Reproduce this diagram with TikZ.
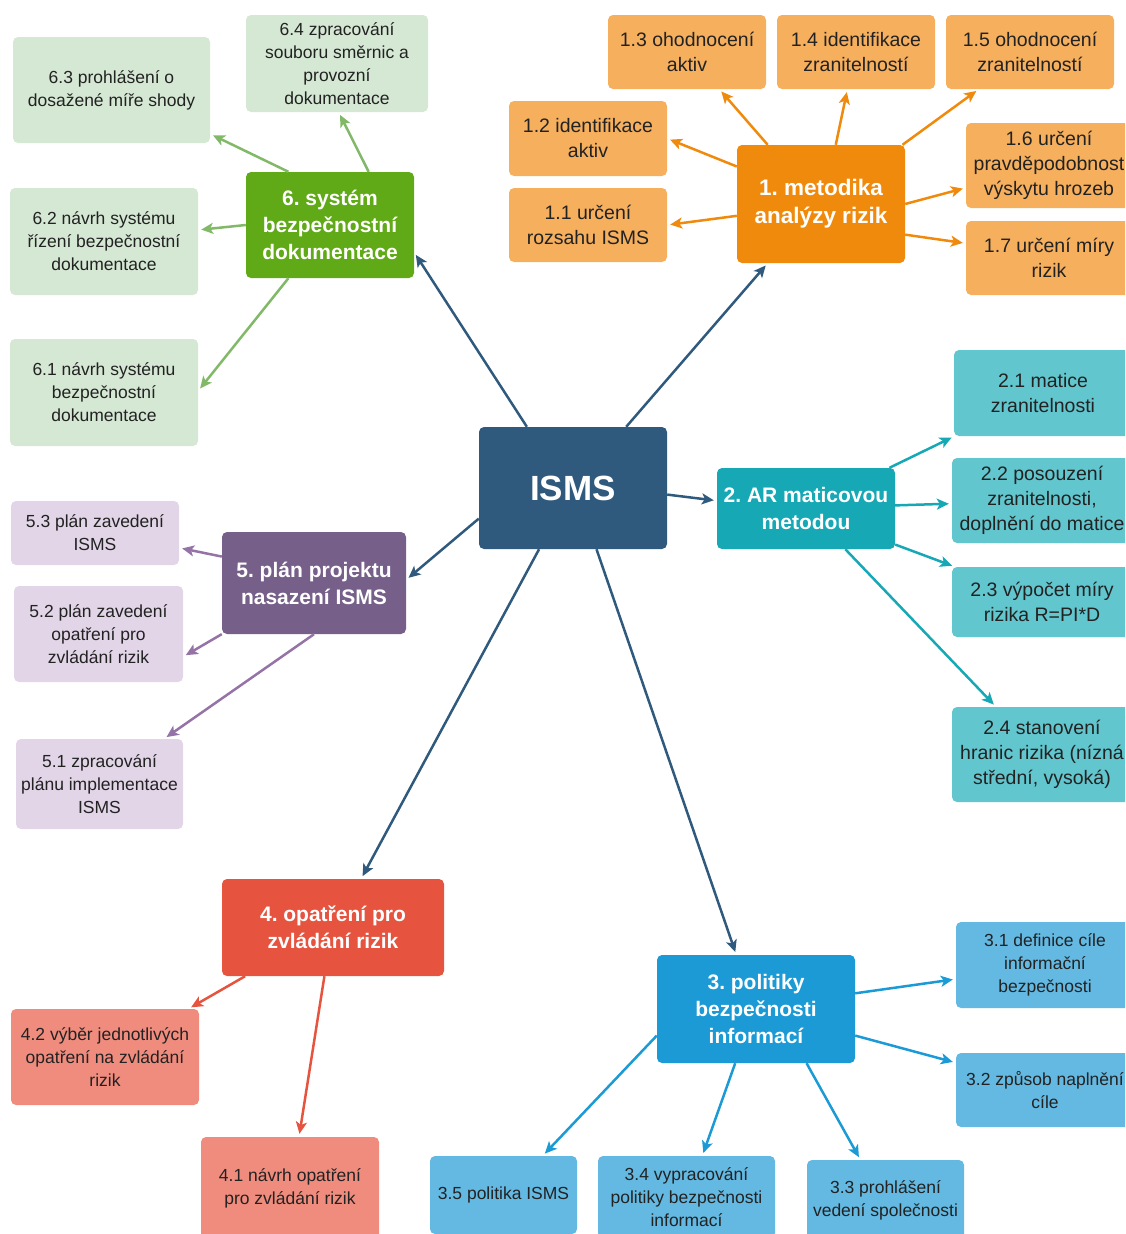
\documentclass[tikz,border=0pt]{standalone}
\usepackage{fontspec}
\setmainfont{Liberation Sans}
\frenchspacing
\usepackage{color}
\definecolor{mydarkblue}{RGB}{47,90,125}
\definecolor{myorange}{RGB}{240,138,12}
\definecolor{mylightorange}{RGB}{245,175,93}
\definecolor{myteal}{RGB}{22,168,181}
\definecolor{mylightteal}{RGB}{98,198,206}
\definecolor{mygreen}{RGB}{96,169,23}
\definecolor{mylightgreen}{RGB}{213,232,212}
\definecolor{mygreenline}{RGB}{130,185,105}
\definecolor{mypurple}{RGB}{118,96,138}
\definecolor{mylightpurple}{RGB}{225,213,231}
\definecolor{mypurpleline}{RGB}{150,115,166}
\definecolor{myred}{RGB}{230,84,64}
\definecolor{mylightred}{RGB}{240,140,126}
\definecolor{myblue}{RGB}{27,154,214}
\definecolor{mylightblue}{RGB}{99,185,226}
\definecolor{mytext}{RGB}{34,34,34}
\usepackage{tikz}
\usetikzlibrary{arrows.meta,positioning}
\tikzstyle{hub}=[rounded corners=5pt,inner sep=0pt,align=center,text=white,font=\bfseries\fontsize{21}{27}\selectfont]
\tikzstyle{leaf}=[rounded corners=5pt,inner sep=0pt,align=center,text=mytext,font=\fontsize{17.5}{23}\selectfont]
\tikzstyle{bigleaf}=[leaf,font=\fontsize{19.5}{25}\selectfont]
\tikzstyle{link}=[line width=2.5pt,-{Stealth[length=12pt,width=11pt,inset=3pt]},shorten >=3pt]
\tikzset{boxsize/.style 2 args={minimum width=#1,minimum height=#2}}

\begin{document}
\begin{tikzpicture}[x=1pt,y=-1pt]
\useasboundingbox (0,0) rectangle (1125,1234);
\clip (0,0) rectangle (1125,1234);

\node[hub,fill=mydarkblue,boxsize={188}{122},font=\bfseries\fontsize{35}{40}\selectfont] (isms) at (573,488) {ISMS};

\node[hub,fill=myorange,boxsize={168}{118},font=\bfseries\fontsize{22.5}{28}\selectfont] (met) at (821,204) {1. metodika\\analýzy rizik};
\node[bigleaf,fill=mylightorange,boxsize={158}{74}] (met11) at (588,225) {1.1 určení\\rozsahu ISMS};
\node[bigleaf,fill=mylightorange,boxsize={158}{75}] (met12) at (588,138.5) {1.2 identifikace\\aktiv};
\node[bigleaf,fill=mylightorange,boxsize={158}{74}] (met13) at (687,52) {1.3 ohodnocení\\aktiv};
\node[bigleaf,fill=mylightorange,boxsize={158}{74}] (met14) at (856,52) {1.4 identifikace\\zranitelností};
\node[bigleaf,fill=mylightorange,boxsize={168}{74}] (met15) at (1030,52) {1.5 ohodnocení\\zranitelností};
\node[bigleaf,fill=mylightorange,boxsize={166}{85}] (met16) at (1049,165.5) {1.6 určení\\pravděpodobnost\\výskytu hrozeb};
\node[bigleaf,fill=mylightorange,boxsize={166}{74}] (met17) at (1049,258) {1.7 určení míry\\rizik};

\node[hub,fill=myteal,boxsize={178}{81}] (arm) at (806,508.5) {2. AR maticovou\\metodou};
\node[bigleaf,fill=mylightteal,boxsize={178}{86}] (arm21) at (1043,393) {2.1 matice\\zranitelnosti};
\node[bigleaf,fill=mylightteal,boxsize={180}{85}] (arm22) at (1042,500.5) {2.2 posouzení\\zranitelnosti,\\doplnění do matice};
\node[bigleaf,fill=mylightteal,boxsize={180}{70}] (arm23) at (1042,602) {2.3 výpočet míry\\rizika R=PI*D};
\node[bigleaf,fill=mylightteal,boxsize={180}{95}] (arm24) at (1042,754.5) {2.4 stanovení\\hranic rizika (nízná\\střední, vysoká)};

\node[hub,fill=myblue,boxsize={198}{108}] (pol) at (756,1009) {3. politiky\\bezpečnosti\\informací};
\node[leaf,fill=mylightblue,boxsize={178}{86}] (pol31) at (1045,965) {3.1 definice cíle\\informační\\bezpečnosti};
\node[leaf,fill=mylightblue,boxsize={178}{74}] (pol32) at (1045,1090) {3.2 způsob naplnění\\cíle};
\node[leaf,fill=mylightblue,boxsize={157}{80}] (pol33) at (885.5,1200) {3.3 prohlášení\\vedení společnosti};
\node[leaf,fill=mylightblue,boxsize={177}{82}] (pol34) at (686.5,1197) {3.4 vypracování\\politiky bezpečnosti\\informací};
\node[leaf,fill=mylightblue,boxsize={147}{78}] (pol35) at (503.5,1195) {3.5 politika ISMS};

\node[hub,fill=myred,boxsize={222}{97}] (opt) at (333,927.5) {4. opatření pro\\zvládání rizik};
\node[leaf,fill=mylightred,boxsize={178}{102}] (opt41) at (290,1188) {4.1 návrh opatření\\pro zvládání rizik};
\node[leaf,fill=mylightred,boxsize={188}{96}] (opt42) at (105,1057) {4.2 výběr jednotlivých\\opatření na zvládání\\rizik};

\node[hub,fill=mypurple,boxsize={184}{102}] (pln) at (314,583) {5. plán projektu\\nasazení ISMS};
\node[leaf,fill=mylightpurple,boxsize={167}{90}] (pln51) at (99.5,784) {5.1 zpracování\\plánu implementace\\ISMS};
\node[leaf,fill=mylightpurple,boxsize={169}{96}] (pln52) at (98.5,634) {5.2 plán zavedení\\opatření pro\\zvládání rizik};
\node[leaf,fill=mylightpurple,boxsize={168}{64}] (pln53) at (95,533) {5.3 plán zavedení\\ISMS};

\node[hub,fill=mygreen,boxsize={168}{106}] (sys) at (330,225) {6. systém\\bezpečnostní\\dokumentace};
\node[leaf,fill=mylightgreen,boxsize={188}{107}] (sys61) at (104,392.5) {6.1 návrh systému\\bezpečnostní\\dokumentace};
\node[leaf,fill=mylightgreen,boxsize={188}{107}] (sys62) at (104,241.5) {6.2 návrh systému\\řízení bezpečnostní\\dokumentace};
\node[leaf,fill=mylightgreen,boxsize={197}{106}] (sys63) at (111.5,90) {6.3 prohlášení o\\dosažené míře shody};
\node[leaf,fill=mylightgreen,boxsize={182}{97}] (sys64) at (337,63.5) {6.4 zpracování\\souboru směrnic a\\provozní\\dokumentace};

\draw[link,mydarkblue] (isms.49) -- (met.-132);
\draw[link,mydarkblue] (isms.127) -- (sys.-18);
\draw[link,mydarkblue] (isms.-4) -- (arm.175);
\draw[link,mydarkblue] (isms.-162) -- (pln.2);
\draw[link,mydarkblue] (isms.-119) -- (opt.60);
\draw[link,mydarkblue] (isms.-69) -- (pol.110);

\draw[link,myorange] (met.132) -- (met13.-49);
\draw[link,myorange] (met.76) -- (met14.-103);
\draw[link,myorange] (met.36) -- (met15.-144);
\draw[link,myorange] (met.156) -- (met12.east);
\draw[link,myorange] (met.188) -- (met11.east);
\draw[link,myorange] (met.east) -- (met16.195);
\draw[link,myorange] (met.-20) -- (met17.170);

\draw[link,myteal] (arm.26) -- (arm21.206);
\draw[link,myteal] (arm.2) -- (arm22.182);
\draw[link,myteal] (arm.-22) -- (arm23.158);
\draw[link,myteal] (arm.-46) -- (arm24.134);

\draw[link,myblue] (pol.9) -- (pol31.-171);
\draw[link,myblue] (pol.-15) -- (pol32.163);
\draw[link,myblue] (pol.-47) -- (pol33.122);
\draw[link,myblue] (pol.-111) -- (pol34.69);
\draw[link,myblue] (pol.-165) -- (pol35.45);

\draw[link,myred] (opt.-151) -- (opt42.30);
\draw[link,myred] (opt.-100) -- (opt41.80);

\draw[link,mypurpleline] (pln.164) -- (pln53.-10);
\draw[link,mypurpleline] (pln.-151) -- (pln52.-15);
\draw[link,mypurpleline] (pln.south) -- (pln51.35);

\draw[link,mygreenline] (sys.128) -- (sys63.-24);
\draw[link,mygreenline] (sys.54) -- (sys64.-88);
\draw[link,mygreenline] (sys.west) -- (sys62.7);
\draw[link,mygreenline] (sys.-128) -- (sys61.1);
\end{tikzpicture}
\end{document}
